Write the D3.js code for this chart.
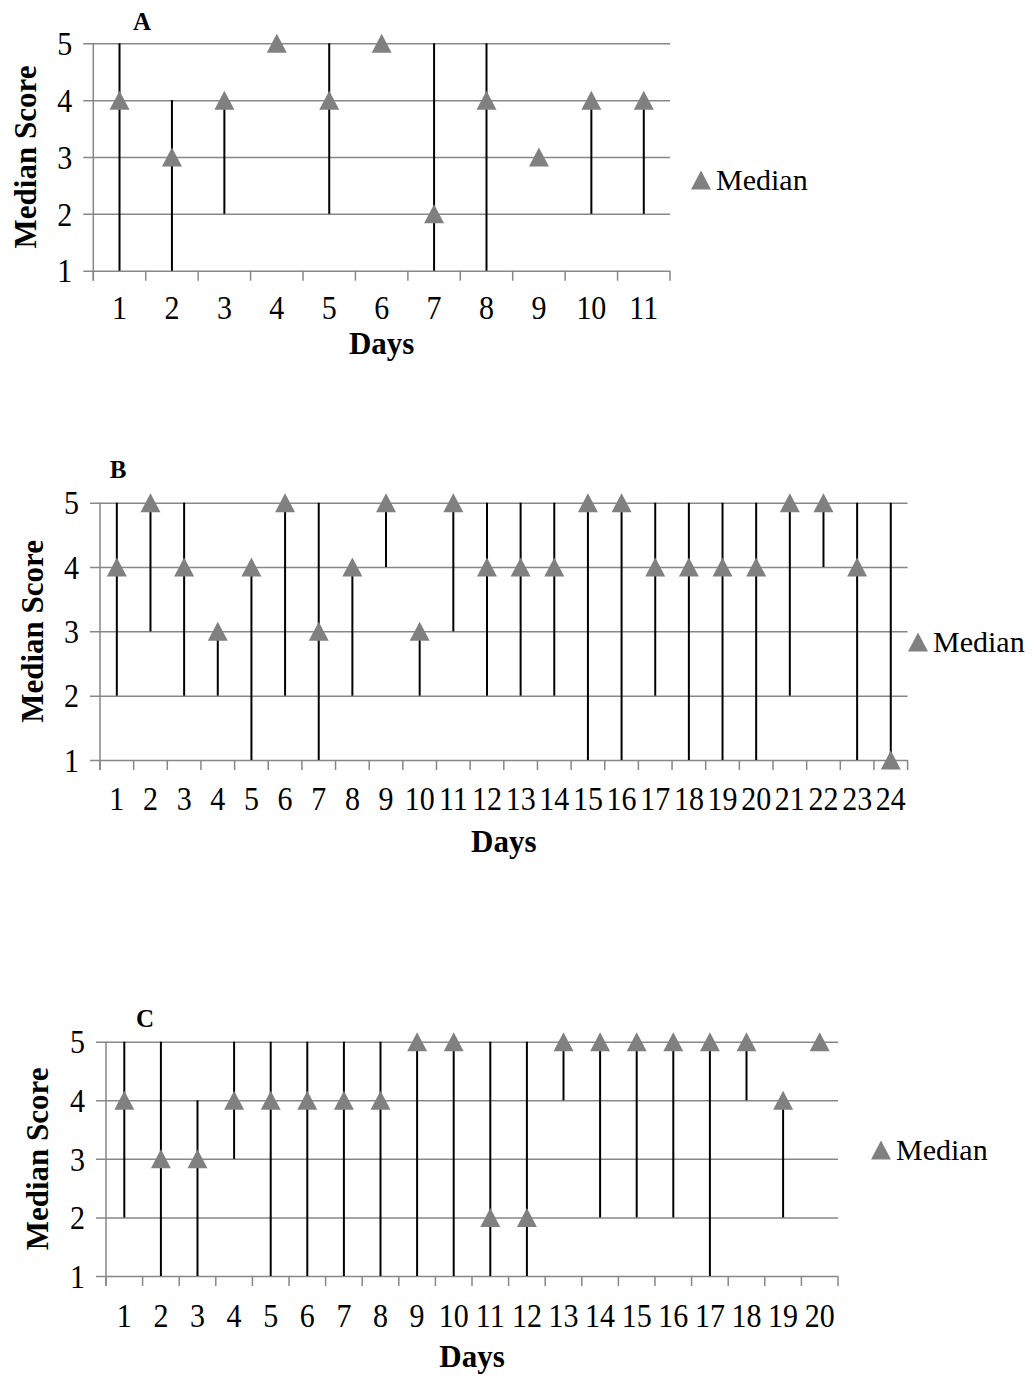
<!DOCTYPE html>
<html>
<head>
<meta charset="utf-8">
<script src="https://cdn.jsdelivr.net/npm/d3@7"></script>
<style>
  body { margin: 0; background: #fff; }
  svg text { font-family: "Liberation Serif", "Times New Roman", Times, serif; fill: #000; }
</style>
</head>
<body>
<div class="chart"></div>
<script>
// medians and ranges per day
var scoreTicks = [1, 2, 3, 4, 5];

var daysA = [1, 2, 3, 4, 5, 6, 7, 8, 9, 10, 11];
var medianA = [4, 3, 4, 5, 4, 5, 2, 4, 3, 4, 4];
var lowA    = [1, 1, 2, 5, 2, 5, 1, 1, 3, 2, 2];
var highA   = [5, 4, 4, 5, 5, 5, 5, 5, 3, 4, 4];

var daysB = [1, 2, 3, 4, 5, 6, 7, 8, 9, 10, 11, 12, 13, 14, 15, 16, 17, 18, 19, 20, 21, 22, 23, 24];
var medianB = [4, 5, 4, 3, 4, 5, 3, 4, 5, 3, 5, 4, 4, 4, 5, 5, 4, 4, 4, 4, 5, 5, 4, 1];
var lowB    = [2, 3, 2, 2, 1, 2, 1, 2, 4, 2, 3, 2, 2, 2, 1, 1, 2, 1, 1, 1, 2, 4, 1, 1];
var highB   = [5, 5, 5, 3, 4, 5, 5, 4, 5, 3, 5, 5, 5, 5, 5, 5, 5, 5, 5, 5, 5, 5, 5, 5];

var daysC = [1, 2, 3, 4, 5, 6, 7, 8, 9, 10, 11, 12, 13, 14, 15, 16, 17, 18, 19, 20];
var medianC = [4, 3, 3, 4, 4, 4, 4, 4, 5, 5, 2, 2, 5, 5, 5, 5, 5, 5, 4, 5];
var lowC    = [2, 1, 1, 3, 1, 1, 1, 1, 1, 1, 1, 1, 4, 2, 2, 2, 1, 4, 2, 5];
var highC   = [5, 5, 4, 5, 5, 5, 5, 5, 5, 5, 5, 5, 5, 5, 5, 5, 5, 5, 4, 5];

var svg = d3.select('.chart').append('svg').attr('width', 1034).attr('height', 1376)
  .attr('font-family', '"Liberation Serif", "Times New Roman", serif');

var gridColor = '#878787',
    markColor = '#808080',
    tickFont = '30px';

// triangle shape, bbox centred on the point
var tri = 'M0,-9.5L10,9.5L-10,9.5Z';

function panel(p) {
  var data = p.days.map(function(d, i) {
    return { day: d, med: p.median[i], lo: p.low[i], hi: p.high[i] };
  });

  var x = d3.scaleBand().domain(p.days).range([p.left, p.right]);
  var y = d3.scaleLinear().domain([1, 5]).range([p.bottom, p.top]);
  var w = p.right - p.left;

  var g = svg.append('g');

  // horizontal grid + y labels
  var ya = g.append('g')
    .attr('transform', 'translate(' + p.left + ',0)')
    .call(d3.axisLeft(y).tickValues(scoreTicks).tickSize(-w).tickFormat(d3.format('d')));
  ya.attr('font-family', null).attr('font-size', null);
  ya.select('.domain').remove();
  ya.selectAll('line').attr('x1', -10).attr('stroke', gridColor).attr('stroke-width', 1.5);
  ya.selectAll('text').attr('x', null).attr('dy', null)
    .attr('transform', 'translate(-21,0) scale(1,1.1)')
    .attr('dy', '0.34em')
    .style('font-size', tickFont);

  // y axis line
  g.append('line')
    .attr('x1', p.left).attr('x2', p.left)
    .attr('y1', y(5)).attr('y2', y(1) + 10)
    .attr('stroke', gridColor).attr('stroke-width', 1.5);

  // x ticks at band edges
  var edges = p.days.map(function(d) { return x(d); }).concat([p.right]);
  g.selectAll('.xtick').data(edges).enter().append('line')
    .attr('class', 'xtick')
    .attr('x1', function(d) { return d; }).attr('x2', function(d) { return d; })
    .attr('y1', y(1)).attr('y2', y(1) + 10)
    .attr('stroke', gridColor).attr('stroke-width', 1.5);

  // x labels
  var xa = g.append('g')
    .attr('transform', 'translate(0,' + y(1) + ')')
    .call(d3.axisBottom(x).tickSize(0).tickPadding(0));
  xa.attr('font-family', null).attr('font-size', null);
  xa.select('.domain').remove();
  xa.selectAll('text').attr('y', null)
    .attr('transform', 'translate(0,' + p.labelOff + ') scale(1,1.1)')
    .attr('dy', '0.34em')
    .style('font-size', tickFont);

  // range lines
  g.selectAll('.rng').data(data).enter().append('line')
    .attr('class', 'rng')
    .attr('x1', function(d) { return x(d.day) + x.bandwidth() / 2; })
    .attr('x2', function(d) { return x(d.day) + x.bandwidth() / 2; })
    .attr('y1', function(d) { return y(d.lo); })
    .attr('y2', function(d) { return y(d.hi); })
    .attr('stroke', '#000').attr('stroke-width', 2);

  // median markers
  g.selectAll('.med').data(data).enter().append('path')
    .attr('class', 'med')
    .attr('d', tri)
    .attr('fill', markColor)
    .attr('transform', function(d) {
      return 'translate(' + (x(d.day) + x.bandwidth() / 2) + ',' + y(d.med) + ')';
    });

  // titles
  g.append('text')
    .attr('transform', 'translate(' + p.ylabX + ',' + (p.top + p.bottom) / 2 + ') rotate(-90)')
    .attr('text-anchor', 'middle').attr('dy', '0.34em')
    .style('font-size', '31px').style('font-weight', 'bold')
    .text('Median Score');

  g.append('text')
    .attr('x', (p.left + p.right) / 2).attr('y', p.daysY)
    .attr('text-anchor', 'middle')
    .style('font-size', '31px').style('font-weight', 'bold')
    .text('Days');

  g.append('text')
    .attr('x', p.letterX).attr('y', p.letterY)
    .attr('text-anchor', 'middle')
    .style('font-size', '25px').style('font-weight', 'bold')
    .text(p.letter);

  // legend
  g.append('path').attr('d', tri).attr('fill', markColor)
    .attr('transform', 'translate(' + p.legX + ',' + p.legY + ')');
  g.append('text')
    .attr('x', p.legX + 15).attr('y', p.legY).attr('dy', '0.34em')
    .style('font-size', '30px')
    .text('Median');
}

panel({ letter: 'A', days: daysA, median: medianA, low: lowA, high: highA,
  left: 93.3, right: 670, top: 43.3, bottom: 270.7, labelOff: 37.5,
  ylabX: 25, daysY: 354, letterX: 142, letterY: 30, legX: 701, legY: 180 });

panel({ letter: 'B', days: daysB, median: medianB, low: lowB, high: highB,
  left: 100, right: 907.6, top: 502.7, bottom: 760, labelOff: 38.5,
  ylabX: 32, daysY: 852, letterX: 118, letterY: 478, legX: 918, legY: 642 });

panel({ letter: 'C', days: daysC, median: medianC, low: lowC, high: highC,
  left: 106, right: 838, top: 1041.7, bottom: 1276, labelOff: 39.5,
  ylabX: 37, daysY: 1367, letterX: 145, letterY: 1027, legX: 881, legY: 1150 });
</script>
</body>
</html>
